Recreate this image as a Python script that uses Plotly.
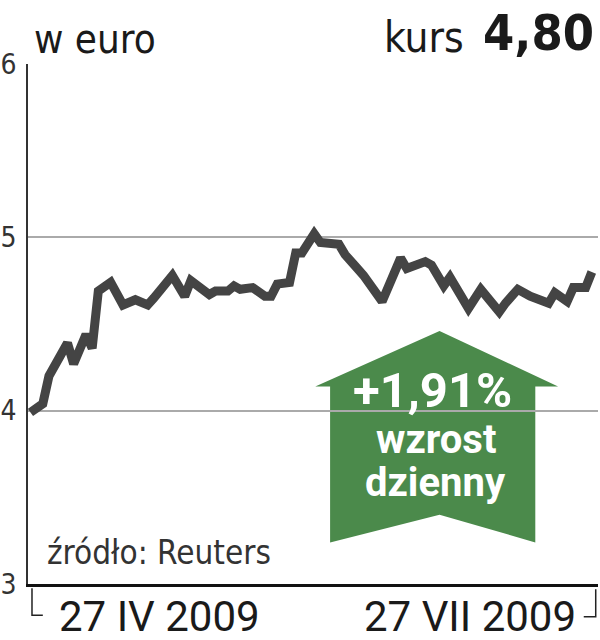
import pandas as pd
import plotly.graph_objects as go

# trading days counted from 27 IV 2009, and the closing rate in euro
day_offset = [0, 2, 3, 4, 6, 7, 9, 10, 11, 13, 15, 17, 19, 20, 23, 25, 26, 29, 30, 32,
              33, 34, 36, 38, 39, 40, 42, 43, 44, 46, 47, 50, 51, 53, 54, 57, 60, 61,
              64, 65, 67, 68, 71, 73, 74, 76, 77, 79, 81, 84, 85, 87, 88, 90, 91]
kurs = [3.99, 4.04, 4.20, 4.27, 4.39, 4.27, 4.44, 4.36, 4.69, 4.74, 4.61, 4.64, 4.61,
        4.65, 4.78, 4.66, 4.75, 4.67, 4.69, 4.69, 4.72, 4.70, 4.71, 4.66, 4.66, 4.73,
        4.74, 4.91, 4.91, 5.02, 4.97, 4.96, 4.90, 4.82, 4.78, 4.63, 4.88, 4.82, 4.86,
        4.84, 4.72, 4.77, 4.59, 4.70, 4.65, 4.57, 4.62, 4.70, 4.66, 4.62, 4.68, 4.63,
        4.71, 4.71, 4.80]
y_ticks = [3, 4, 5, 6]
start_label = "27 IV 2009"
end_label = "27 VII 2009"
last_rate = "4,80"
change = "+1,91%"

start = pd.Timestamp("2009-04-27")
dates = start + pd.to_timedelta(day_offset, unit="D")

fig = go.Figure()
fig.add_trace(go.Scatter(
    x=dates, y=kurs, mode="lines",
    line=dict(color="#444444", width=9),
    hoverinfo="skip",
))

narrow = "DejaVu Sans Condensed, Roboto, sans-serif"
bold_font = "Roboto, Liberation Sans, sans-serif"
green = "#4b8a4b"

# green "up" arrow
fig.add_shape(
    type="path", xref="paper", yref="y", layer="below",
    path="M 0.722 4.46 L 0.504 4.14 L 0.530 4.14 L 0.530 3.24 L 0.722 3.40 "
         "L 0.890 3.24 L 0.890 4.14 L 0.930 4.14 Z",
    fillcolor=green, line=dict(width=0),
)

# brackets under the x axis
fig.add_shape(type="path", xref="paper", yref="paper",
              path="M 0.007 -0.008 L 0.007 -0.060 L 0.026 -0.060",
              line=dict(color="#222222", width=1.5))
fig.add_shape(type="path", xref="paper", yref="paper",
              path="M 0.996 -0.010 L 0.996 -0.063 L 0.975 -0.063",
              line=dict(color="#222222", width=1.5))

annots = [
    dict(text="w euro", x=0.007, y=1.0, xanchor="left", yanchor="bottom",
         font=dict(family=narrow, size=40, color="#1a1a1a")),
    dict(text="kurs", x=0.768, y=1.0, xanchor="right", yanchor="bottom",
         font=dict(family=narrow, size=42, color="#1a1a1a")),
    dict(text=f"<b>{last_rate}</b>", x=0.997, y=1.0, xanchor="right", yanchor="bottom",
         font=dict(family=narrow, size=50, color="#1a1a1a")),
    dict(text="źródło: Reuters", x=0.03, y=0.06, xanchor="left", yanchor="middle",
         font=dict(family=narrow, size=33, color="#333333")),
    dict(text=start_label, x=0.23, y=-0.062, xanchor="center", yanchor="middle",
         font=dict(family=bold_font, size=42, color="#1a1a1a")),
    dict(text=end_label, x=0.775, y=-0.062, xanchor="center", yanchor="middle",
         font=dict(family=bold_font, size=42, color="#1a1a1a")),
    dict(text=f"<b>{change}</b>", x=0.71, y=0.372, xanchor="center", yanchor="middle",
         font=dict(family=bold_font, size=49, color="white")),
    dict(text="<b>wzrost</b>", x=0.715, y=0.278, xanchor="center", yanchor="middle",
         font=dict(family=bold_font, size=40, color="white")),
    dict(text="<b>dzienny</b>", x=0.715, y=0.195, xanchor="center", yanchor="middle",
         font=dict(family=bold_font, size=40, color="white")),
]
for a in annots:
    fig.add_annotation(xref="paper", yref="paper", showarrow=False, **a)

fig.update_xaxes(
    range=[start - pd.Timedelta(days=0.4), start + pd.Timedelta(days=92)],
    showgrid=False, showticklabels=False, ticks="",
    showline=True, linecolor="#111111", linewidth=3, zeroline=False,
    automargin=False,
)
fig.update_yaxes(
    range=[3, 6], tickvals=y_ticks, ticktext=[str(v) for v in y_ticks],
    showgrid=True, gridcolor="#aaaaaa", gridwidth=1.5,
    showline=True, linecolor="#333333", linewidth=1.5, zeroline=False,
    tickfont=dict(family=narrow, size=28, color="#333333"),
    ticks="", ticklabelstandoff=4, automargin=False,
)
fig.update_layout(
    width=600, height=640,
    margin=dict(l=28, r=2, t=64, b=56),
    plot_bgcolor="white", paper_bgcolor="white",
    showlegend=False,
)

# the page body has a default 8px margin; drop it so the figure fills the window
fig.write_html("out.html", config={"displayModeBar": False},
               post_script="document.body.style.margin='0';")
